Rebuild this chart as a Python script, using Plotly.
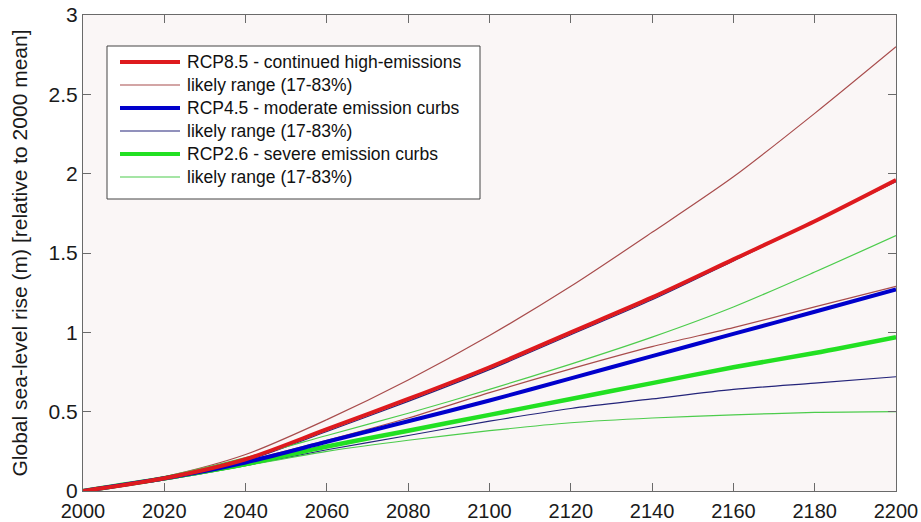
import plotly.graph_objects as go

# sea-level rise projections (m, relative to 2000 mean)
years = [2000, 2020, 2040, 2060, 2080, 2100, 2120, 2140, 2160, 2180, 2200]

rcp85_med = [0, 0.08, 0.20, 0.39, 0.58, 0.78, 1.00, 1.22, 1.46, 1.70, 1.96]
rcp85_hi = [0, 0.09, 0.23, 0.45, 0.70, 0.98, 1.29, 1.63, 1.98, 2.38, 2.80]
rcp85_lo = [0, 0.08, 0.19, 0.32, 0.46, 0.62, 0.77, 0.91, 1.03, 1.16, 1.29]

rcp45_med = [0, 0.08, 0.18, 0.31, 0.44, 0.57, 0.71, 0.85, 0.99, 1.13, 1.27]
rcp45_hi = [0, 0.08, 0.19, 0.375, 0.565, 0.765, 0.985, 1.205, 1.45, 1.70, 1.95]
rcp45_lo = [0, 0.07, 0.16, 0.26, 0.35, 0.44, 0.52, 0.58, 0.64, 0.68, 0.72]

rcp26_med = [0, 0.08, 0.17, 0.28, 0.38, 0.48, 0.58, 0.68, 0.78, 0.87, 0.97]
rcp26_hi = [0, 0.09, 0.21, 0.35, 0.49, 0.64, 0.80, 0.97, 1.16, 1.38, 1.61]
rcp26_lo = [0, 0.07, 0.16, 0.25, 0.32, 0.38, 0.43, 0.46, 0.48, 0.495, 0.50]

legend_labels = [
    "RCP8.5 - continued high-emissions",
    "likely range (17-83%)",
    "RCP4.5 - moderate emission curbs",
    "likely range (17-83%)",
    "RCP2.6 - severe emission curbs",
    "likely range (17-83%)",
]

x_ticks = list(range(2000, 2201, 20))
y_ticks = [0, 0.5, 1, 1.5, 2, 2.5, 3]
y_ticklabels = ["0", "0.5", "1", "1.5", "2", "2.5", "3"]

RED, RED_THIN = "#de1a1e", "#a84c4c"
BLUE, BLUE_THIN = "#0000cc", "#24247a"
GREEN, GREEN_THIN = "#22e022", "#4ccc4c"

fig = go.Figure()

# thin range lines first, then the medians on top
series = [
    (rcp85_hi, RED_THIN, 1.2), (rcp85_lo, RED_THIN, 1.2),
    (rcp45_hi, BLUE_THIN, 1.2), (rcp45_lo, BLUE_THIN, 1.2),
    (rcp26_hi, GREEN_THIN, 1.2), (rcp26_lo, GREEN_THIN, 1.2),
    (rcp26_med, GREEN, 4.5), (rcp45_med, BLUE, 4), (rcp85_med, RED, 4),
]
for vals, col, w in series:
    fig.add_trace(go.Scatter(
        x=years, y=vals, mode="lines",
        line=dict(color=col, width=w, shape="spline", smoothing=0.8),
        showlegend=False, hoverinfo="skip",
    ))

# hand-built legend box (matlab style: long line samples)
L, R, T, B = 83, 896, 15, 491
def px(x):
    return (x - L) / (R - L)
def py(y):
    return (B - y) / (B - T)

fig.add_shape(type="rect", xref="paper", yref="paper",
              x0=px(107), x1=px(480), y0=py(46), y1=py(199),
              line=dict(color="#444444", width=1), fillcolor="white")
leg_styles = [(RED, 4), (RED_THIN, 1.2), (BLUE, 4), (BLUE_THIN, 1.2), (GREEN, 4), (GREEN_THIN, 1.2)]
for i, (lab, (col, w)) in enumerate(zip(legend_labels, leg_styles)):
    yy = 62 + i * 23
    fig.add_shape(type="line", xref="paper", yref="paper",
                  x0=px(120), x1=px(180), y0=py(yy), y1=py(yy),
                  line=dict(color=col, width=w))
    fig.add_annotation(xref="paper", yref="paper", x=px(185), y=py(yy),
                       text=lab, showarrow=False, xanchor="left", yanchor="middle",
                       font=dict(size=17.5, color="#111111"))

axis_common = dict(
    showgrid=False, zeroline=False, showline=True, linecolor="#6a6a6a", linewidth=1,
    mirror="ticks", ticks="inside", ticklen=8, tickcolor="#6a6a6a",
    automargin=False,
)
fig.update_xaxes(range=[2000, 2200], tickvals=x_ticks, ticklabelstandoff=2,
                 tickfont=dict(size=20, color="#1a1a1a"), **axis_common)
fig.update_yaxes(range=[0, 3], tickvals=y_ticks, ticktext=y_ticklabels,
                 tickfont=dict(size=21, color="#1a1a1a"),
                 title=dict(text="Global sea-level rise (m) [relative to 2000 mean]",
                            font=dict(size=21, color="#1a1a1a"), standoff=15),
                 **axis_common)

fig.update_layout(
    width=921, height=522,
    margin=dict(l=L, r=921 - R, t=T, b=522 - B),
    paper_bgcolor="white", plot_bgcolor="#faf6f6",
    font=dict(family="Liberation Sans, Arial, sans-serif"),
    showlegend=False,
)

# drop the default page margin so the figure sits at the window's corner
fig.write_html("out.html", config={"displayModeBar": False},
               post_script="document.body.style.margin='0px';")
